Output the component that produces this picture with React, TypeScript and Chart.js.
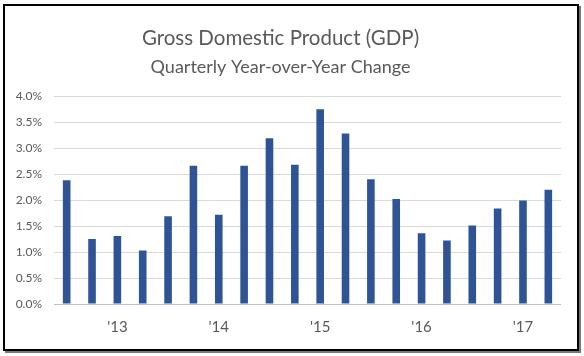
import React, { useEffect, useRef } from "react";
import { Chart, registerables } from "chart.js";

Chart.register(...registerables);

const categories = ["", "", "'13", "", "", "", "'14", "", "", "", "'15", "", "", "", "'16", "", "", "", "'17", ""];
const gdpChange = [2.38, 1.25, 1.31, 1.03, 1.69, 2.66, 1.72, 2.66, 3.19, 2.68, 3.75, 3.28, 2.4, 2.02, 1.36, 1.22, 1.51, 1.84, 1.99, 2.2];
const titleText = "Gross Domestic Product (GDP)";
const subtitleText = "Quarterly Year-over-Year Change";

export default function App() {
  const ref = useRef<HTMLCanvasElement | null>(null);
  useEffect(() => {
    document.body.style.margin = "0";
    const chart = new Chart(ref.current!, {
      type: "bar",
      data: {
        labels: categories,
        datasets: [
          {
            data: gdpChange,
            backgroundColor: "#2F5496",
            borderWidth: 0,
            barPercentage: 0.6,
            categoryPercentage: 0.5,
          },
        ],
      },
      options: {
        animation: false,
        responsive: false,
        layout: { padding: { left: 0, right: 23, top: 14, bottom: 14 } },
        plugins: {
          legend: { display: false },
          tooltip: { enabled: false },
          title: {
            display: true,
            text: titleText,
            color: "#595959",
            font: { family: "Lato", size: 20.5, weight: "normal" },
            padding: { top: 12, bottom: 6 },
          },
          subtitle: {
            display: true,
            text: subtitleText,
            color: "#595959",
            font: { family: "Lato", size: 18, weight: "normal" },
            padding: { top: 0, bottom: 18 },
          },
        },
        scales: {
          x: {
            grid: { display: false },
            border: { display: false },
            ticks: {
              autoSkip: false,
              maxRotation: 0,
              color: "#595959",
              font: { family: "Lato", size: 15 },
              padding: 6,
            },
          },
          y: {
            min: 0,
            max: 4,
            afterFit: (s: any) => {
              s.width = 54;
            },
            border: { display: false },
            grid: {
              drawTicks: false,
              color: (c: any) => (c.tick && c.tick.value === 0 ? "#BFBFBF" : "#D9D9D9"),
              lineWidth: 1,
            },
            ticks: {
              stepSize: 0.5,
              padding: 12,
              color: "#595959",
              font: { family: "Lato", size: 12 },
              callback: (v: any) => Number(v).toFixed(1) + "%",
            },
          },
        },
      },
    });
    return () => chart.destroy();
  }, []);
  return (
    <div style={{ position: "relative", width: 584, height: 356, background: "#fff" }}>
      <canvas ref={ref} width={584} height={356} style={{ position: "absolute", left: 0, top: 0 }} />
      <div
        style={{
          position: "absolute",
          left: 3,
          top: 4,
          width: 572,
          height: 343,
          border: "2px solid #000",
          boxShadow: "2px 2px 0 #777",
          pointerEvents: "none",
        }}
      />
    </div>
  );
}
